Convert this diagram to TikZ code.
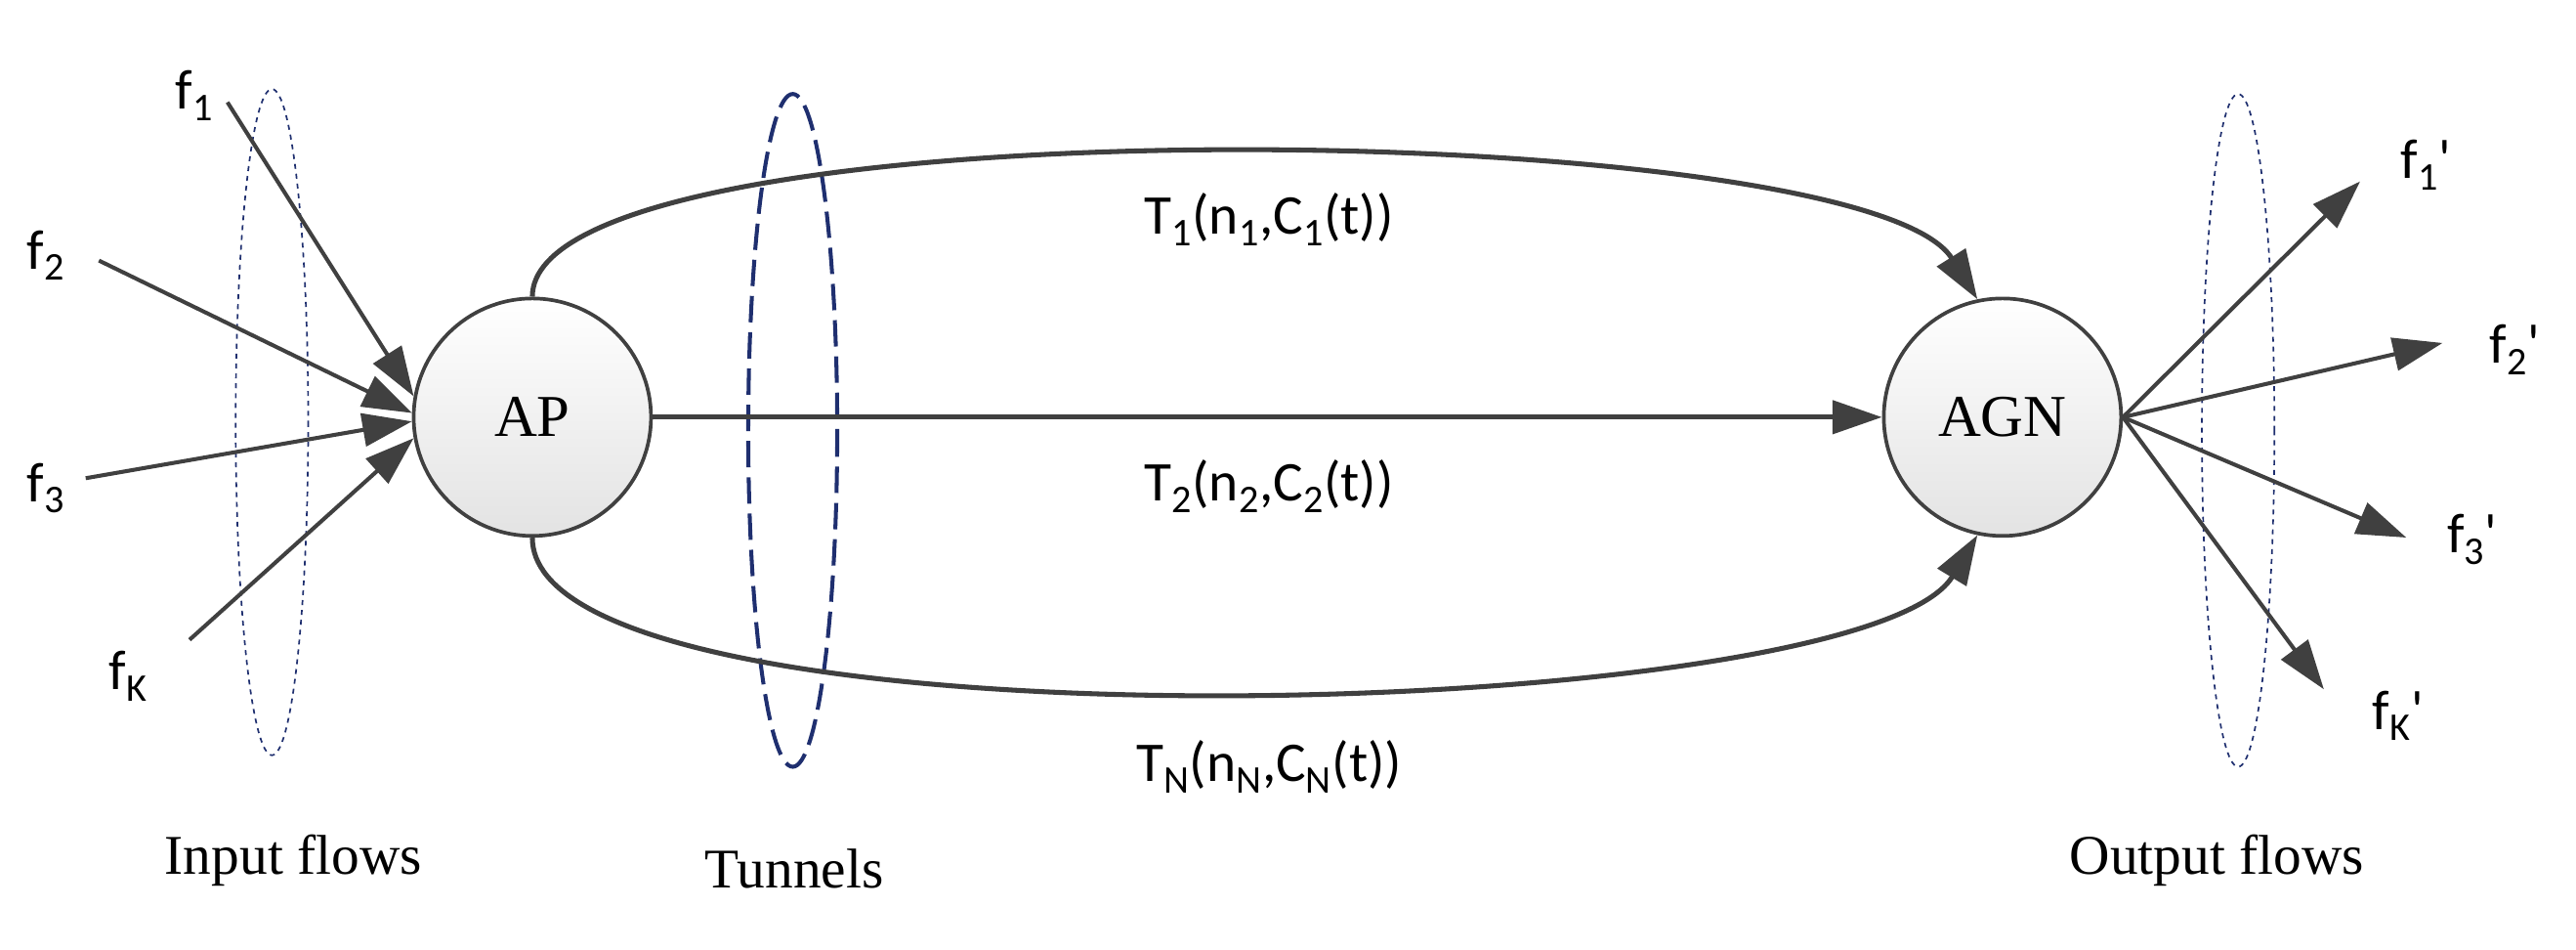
\documentclass[tikz,border=0pt]{standalone}
\usepackage{fontspec}
\setmainfont{Liberation Serif}
\newfontfamily\carlitofont{Carlito}
\usetikzlibrary{arrows.meta}
\definecolor{ln}{HTML}{404040}
\definecolor{nv}{HTML}{1F2F6F}
\newcommand{\sbs}[1]{\textsubscript{#1}}
\begin{document}
\begin{tikzpicture}[x=1pt,y=-1pt,
  nodec/.style={circle,draw=ln,line width=2.2pt,minimum size=144pt,inner sep=0,
    top color=white,bottom color=gray!22,font=\fontsize{36}{42}\selectfont},
  arr/.style={draw=ln,line width=3pt,-{Triangle[length=30pt,width=20pt]}},
  flow/.style={draw=ln,line width=2.4pt,-{Triangle[length=30pt,width=20pt]}},
  ell/.style={draw=nv,dashed,line width=1pt},
  tl/.style={font=\carlitofont\fontsize{34}{40}\selectfont},
  fl/.style={font=\carlitofont\fontsize{34}{40}\selectfont},
  bl/.style={font=\fontsize{34}{40}\selectfont}]
\useasboundingbox (0,0) rectangle (1563,576);
\node[nodec] (ap) at (323,253) {AP};
\node[nodec] (agn) at (1215,253) {AGN};
\draw[ell] (165,256) ellipse [x radius=22,y radius=202];
\draw[ell,line width=2.4pt,dash pattern=on 16pt off 6pt] (481,261) ellipse [x radius=27,y radius=204];
\draw[ell] (1358,261) ellipse [x radius=22,y radius=204];
% inputs
\node[fl] (f1) at (118,58) {f\sbs{1}};
\node[fl] (f2) at (28,155) {f\sbs{2}};
\node[fl] (f3) at (28,296) {f\sbs{3}};
\node[fl] (fk) at (78,410) {f\sbs{K}};
\coordinate (s1) at (138,62);
\coordinate (s2) at (60,158);
\coordinate (s3) at (52,290);
\coordinate (s4) at (115,388);
\draw[flow] (s1) -- (ap.170);
\draw[flow] (s2) -- (ap.178);
\draw[flow] (s3) -- (ap.182);
\draw[flow] (s4) -- (ap.190);
% tunnels
\draw[arr] (ap.90) .. controls (323,60) and (1130,70) .. (agn.102);
\draw[arr] (ap.0) -- (agn.180);
\draw[arr] (ap.-90) .. controls (323,460) and (1130,440) .. (agn.-102);
\node[tl] at (770,133) {T\sbs{1}(n\sbs{1},C\sbs{1}(t))};
\node[tl] at (770,295) {T\sbs{2}(n\sbs{2},C\sbs{2}(t))};
\node[tl] at (770,465) {T\sbs{N}(n\sbs{N},C\sbs{N}(t))};
% outputs
\coordinate (o1) at (1432,110);
\coordinate (o2) at (1482,208);
\coordinate (o3) at (1460,326);
\coordinate (o4) at (1410,418);
\draw[flow] (agn.0) -- (o1);
\draw[flow] (agn.0) -- (o2);
\draw[flow] (agn.0) -- (o3);
\draw[flow] (agn.0) -- (o4);
\node[fl] at (1472,100) {f\sbs{1}'};
\node[fl] at (1526,212) {f\sbs{2}'};
\node[fl] at (1500,327) {f\sbs{3}'};
\node[fl] at (1455,434) {f\sbs{K}'};
\node[bl] at (178,522) {Input flows};
\node[bl] at (482,527) {Tunnels};
\node[bl] at (1345,522) {Output flows};
\end{tikzpicture}
\end{document}
